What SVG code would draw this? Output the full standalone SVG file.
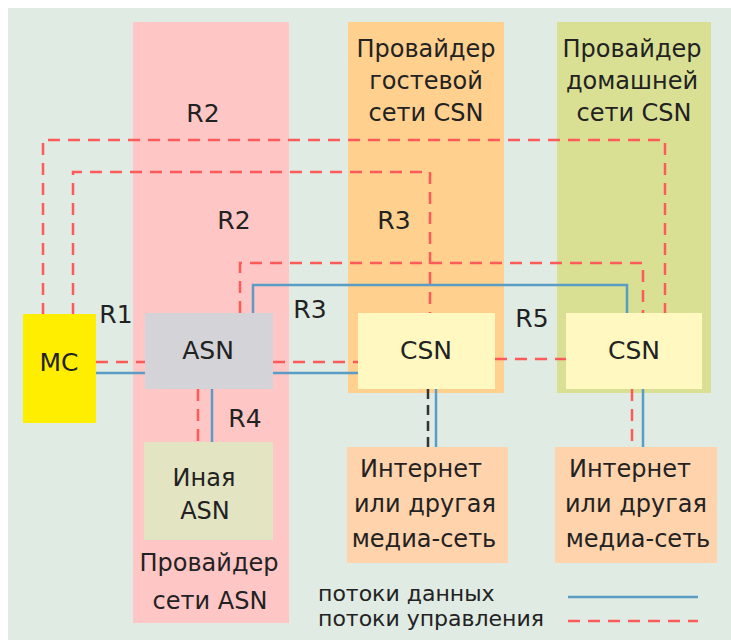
<svg xmlns="http://www.w3.org/2000/svg" width="731" height="640" viewBox="0 0 731 640">
<style>
text{font-family:"DejaVu Sans","Liberation Sans",sans-serif;fill:#222;text-anchor:middle}
.lbl{font-size:24px}
.big{font-size:25px}
.leg{font-size:22px;text-anchor:start}
.ctl{fill:none;stroke:#FF5A5A;stroke-width:2.5;stroke-dasharray:12 8}
.dat{fill:none;stroke:#5A9CC4;stroke-width:2.5}
.blk{fill:none;stroke:#333;stroke-width:2.5;stroke-dasharray:10 6}
</style>
<rect x="0" y="0" width="731" height="640" fill="#ffffff"/>
<rect x="8" y="8" width="723" height="632" fill="#DFEBE3"/>
<g id="zone-asn">
<rect x="133" y="22" width="156" height="601" fill="#FFC6C6"/>
<text class="lbl" x="209" y="571">Провайдер</text>
<text class="lbl" x="210" y="609">сети ASN</text>
</g>
<g id="zone-guest">
<rect x="348" y="22" width="156" height="371" fill="#FFD08E"/>
<text class="lbl" x="426" y="57">Провайдер</text>
<text class="lbl" x="426" y="89">гостевой</text>
<text class="lbl" x="426" y="121">сети CSN</text>
</g>
<g id="zone-home">
<rect x="557" y="22" width="154" height="371" fill="#D9E094"/>
<text class="lbl" x="632" y="57">Провайдер</text>
<text class="lbl" x="632" y="89">домашней</text>
<text class="lbl" x="634" y="121">сети CSN</text>
</g>
<g id="connectors">
<path class="ctl" d="M43,315 V140 H665 V313"/>
<path class="ctl" d="M73,315 V172 H430 V313"/>
<path class="ctl" d="M240,313 V263 H643 V313"/>
<path class="dat" d="M253,313 V285 H627 V313"/>
<path class="ctl" d="M96,362 H145"/>
<path class="dat" d="M96,373 H145"/>
<path class="ctl" d="M273,362 H358"/>
<path class="dat" d="M273,373 H358"/>
<path class="ctl" d="M495,359 H566"/>
<path class="ctl" d="M198,389 V442"/>
<path class="dat" d="M212,389 V442"/>
<path class="blk" d="M428,389 V447"/>
<path class="dat" d="M436,389 V447"/>
<path class="ctl" d="M632,389 V447"/>
<path class="dat" d="M643,389 V447"/>
</g>
<g id="node-mc">
<rect x="23" y="314" width="73" height="109" fill="#FFEE00"/>
<text class="big" x="59" y="371">MC</text>
</g>
<g id="node-asn">
<rect x="145" y="313" width="128" height="76" fill="#D3D3D8"/>
<text class="big" x="208" y="359">ASN</text>
</g>
<g id="node-csn1">
<rect x="358" y="313" width="137" height="76" fill="#FFF8C0"/>
<text class="big" x="426" y="359">CSN</text>
</g>
<g id="node-csn2">
<rect x="566" y="313" width="136" height="76" fill="#FFF8C0"/>
<text class="big" x="634" y="359">CSN</text>
</g>
<g id="node-other-asn">
<rect x="144" y="442" width="129" height="98" fill="#E3E5C2"/>
<text class="lbl" x="204" y="486">Иная</text>
<text class="lbl" x="205" y="519">ASN</text>
</g>
<g id="node-internet1">
<rect x="347" y="447" width="161" height="116" fill="#FFD3AC"/>
<text class="lbl" x="421" y="477">Интернет</text>
<text class="lbl" x="425" y="512">или другая</text>
<text class="lbl" x="424" y="547">медиа-сеть</text>
</g>
<g id="node-internet2">
<rect x="555" y="447" width="162" height="116" fill="#FFD3AC"/>
<text class="lbl" x="630" y="477">Интернет</text>
<text class="lbl" x="636" y="512">или другая</text>
<text class="lbl" x="638" y="547">медиа-сеть</text>
</g>
<g id="labels">
<text class="big" x="203" y="122">R2</text>
<text class="big" x="234" y="229">R2</text>
<text class="big" x="394" y="229">R3</text>
<text class="big" x="116" y="323">R1</text>
<text class="big" x="310" y="318">R3</text>
<text class="big" x="532" y="327">R5</text>
<text class="big" x="245" y="427">R4</text>
</g>
<g id="legend">
<text class="leg" x="318" y="601">потоки данных</text>
<text class="leg" x="318" y="626">потоки управления</text>
<path class="dat" d="M568,597 H698"/>
<path class="ctl" d="M568,621 H698"/>
</g>
</svg>
